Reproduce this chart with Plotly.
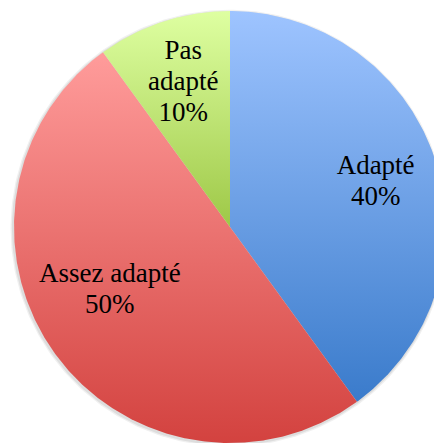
import numpy as np
import plotly.graph_objects as go

# ---- data ----
categories = ["Adapté", "Assez adapté", "Pas adapté"]
values = [40, 50, 10]
percent_labels = ["40%", "50%", "10%"]

# ---- styles ----
grad_top = ["#9EC4FF", "#FF9C9B", "#DEFFA1"]
grad_bottom = ["#3A7BCB", "#D3423F", "#9EC847"]
label_radius = [0.705, 0.63, 0.70]
label_angle_shift = [-1, -8, 0]
font_family = "Liberation Serif"
font_size = 27
line_gap_px = 31

W, H = 442, 443
# page has an 8px body margin; compensate so the pie lands where it should
cx_px, cy_px, r_px = 222, 219, 216

fig = go.Figure()

# soft shadow behind the pie
t = np.linspace(0, 2 * np.pi, 361)
for k, a in [(1.012, 0.06), (1.006, 0.08)]:
    fig.add_trace(go.Scatter(
        x=k * np.cos(t) - 0.004, y=k * np.sin(t) - 0.006, mode="lines",
        fill="toself", fillcolor=f"rgba(0,0,0,{a})", line=dict(width=0),
        hoverinfo="skip", showlegend=False))

total = float(sum(values))
start = 90.0
label_x, label_y, label_text = [], [], []
for i, (cat, v) in enumerate(zip(categories, values)):
    sweep = 360.0 * v / total
    end = start - sweep
    ang = np.radians(np.linspace(start, end, max(int(sweep * 2), 4)))
    xs = np.concatenate([[0], np.cos(ang), [0]])
    ys = np.concatenate([[0], np.sin(ang), [0]])
    fig.add_trace(go.Scatter(
        x=xs, y=ys, mode="lines", fill="toself",
        fillgradient=dict(type="vertical",
                          colorscale=[[0, grad_bottom[i]], [1, grad_top[i]]]),
        line=dict(width=0), hoverinfo="skip", showlegend=False, name=cat))
    mid = np.radians((start + end) / 2 + label_angle_shift[i])
    lx = label_radius[i] * np.cos(mid)
    ly = label_radius[i] * np.sin(mid)
    if cat == "Pas adapté":
        lines = cat.split(" ") + [percent_labels[i]]
    else:
        lines = [cat, percent_labels[i]]
    n = len(lines)
    for j, s in enumerate(lines):
        label_x.append(lx)
        label_y.append(ly - (j - (n - 1) / 2) * line_gap_px / r_px)
        label_text.append(s)
    start = end

fig.add_trace(go.Scatter(
    x=label_x, y=label_y, mode="text", text=label_text,
    textposition="middle center",
    textfont=dict(family=font_family, size=font_size, color="#000000"),
    hoverinfo="skip", showlegend=False))

x0 = -cx_px / r_px
x1 = (W - cx_px) / r_px
y1 = cy_px / r_px
y0 = -(H - cy_px) / r_px

fig.update_layout(
    width=W, height=H, margin=dict(l=0, r=0, t=0, b=0),
    paper_bgcolor="white", plot_bgcolor="white",
    xaxis=dict(range=[x0, x1], visible=False, fixedrange=True),
    yaxis=dict(range=[y0, y1], visible=False, fixedrange=True),
    showlegend=False,
)

fig.write_html("out.html")
